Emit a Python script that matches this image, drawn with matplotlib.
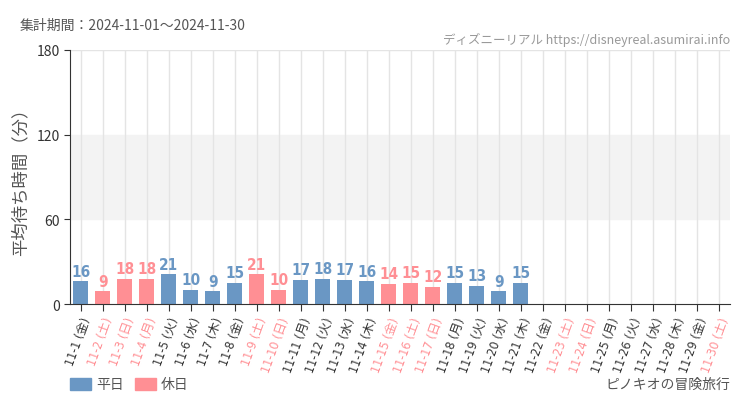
import matplotlib
matplotlib.use("Agg")
import matplotlib.pyplot as plt

plt.rcParams['font.family'] = ['Noto Sans CJK JP', 'DejaVu Sans']

days = ['11-1', '11-2', '11-3', '11-4', '11-5', '11-6', '11-7', '11-8', '11-9', '11-10',
        '11-11', '11-12', '11-13', '11-14', '11-15', '11-16', '11-17', '11-18', '11-19', '11-20',
        '11-21', '11-22', '11-23', '11-24', '11-25', '11-26', '11-27', '11-28', '11-29', '11-30']
weekdays = ['金', '土', '日', '月', '火', '水', '木', '金', '土', '日',
            '月', '火', '水', '木', '金', '土', '日', '月', '火', '水',
            '木', '金', '土', '日', '月', '火', '水', '木', '金', '土']
holiday = [0, 1, 1, 1, 0, 0, 0, 0, 1, 1,
           0, 0, 0, 0, 1, 1, 1, 0, 0, 0,
           0, 0, 1, 1, 0, 0, 0, 0, 0, 1]
waits = [16, 9, 18, 18, 21, 10, 9, 15, 21, 10,
         17, 18, 17, 16, 14, 15, 12, 15, 13, 9, 15]

blue = '#6a97c4'
pink = '#ff8f94'
grey = '#555555'

fig = plt.figure(figsize=(7.5, 4.1), dpi=100)
ax = fig.add_axes([0.0933, 0.256, 0.88, 0.62])

x = list(range(len(days)))
ax.axhspan(60, 120, color='#f3f3f3', zorder=0)
for i, v in enumerate(waits):
    c = pink if holiday[i] else blue
    ax.bar(i, v, width=0.68, color=c, zorder=2)
    ax.text(i, v + 2, str(v), ha='center', va='bottom', color=c, fontsize=11,
            family='DejaVu Sans', fontstretch='condensed', fontweight='bold')

ax.set_xlim(-0.5, len(days) - 0.5)
ax.set_ylim(0, 180)
ax.set_yticks([0, 60, 120, 180])
ax.set_xticks(x)
ax.set_xticklabels([d + ' (' + w + ')' for d, w in zip(days, weekdays)],
                   rotation=70, ha='right', rotation_mode='anchor', fontsize=9,
                   family=['DejaVu Sans', 'Noto Sans CJK JP'], fontstretch='condensed')
for lbl, h in zip(ax.get_xticklabels(), holiday):
    lbl.set_color(pink if h else '#333333')
ax.tick_params(axis='y', labelsize=10, colors='#333333', length=4)
ax.tick_params(axis='x', length=5, color='#333333', pad=3)
ax.grid(axis='x', color='#e4e4e4', linewidth=1, zorder=0)
ax.axhline(180, color='#e4e4e4', linewidth=1, zorder=0)
ax.set_axisbelow(True)
for s in ['top', 'right']:
    ax.spines[s].set_visible(False)
ax.spines['left'].set_color('#333333')
ax.spines['bottom'].set_color('#333333')
ax.set_ylabel('平均待ち時間（分）', fontsize=12.5, color=grey, labelpad=5)

fig.text(20 / 750, 1 - 26 / 410, '集計期間：2024-11-01～2024-11-30', fontsize=10,
         color=grey, va='center')
fig.text(730 / 750, 1 - 40 / 410, 'ディズニーリアル https://disneyreal.asumirai.info', fontsize=9,
         color='#999999', va='center', ha='right')
fig.text(730 / 750, 1 - 385 / 410, 'ピノキオの冒険旅行', fontsize=10,
         color=grey, va='center', ha='right')

fig.patches.append(plt.Rectangle((70 / 750, 1 - 391 / 410), 21 / 750, 12 / 410,
                                 color=blue, transform=fig.transFigure, figure=fig))
fig.text(96 / 750, 1 - 385 / 410, '平日', fontsize=10, color=grey, va='center')
fig.patches.append(plt.Rectangle((135 / 750, 1 - 391 / 410), 21 / 750, 12 / 410,
                                 color=pink, transform=fig.transFigure, figure=fig))
fig.text(161 / 750, 1 - 385 / 410, '休日', fontsize=10, color=grey, va='center')

fig.savefig('out.png', facecolor='white')
